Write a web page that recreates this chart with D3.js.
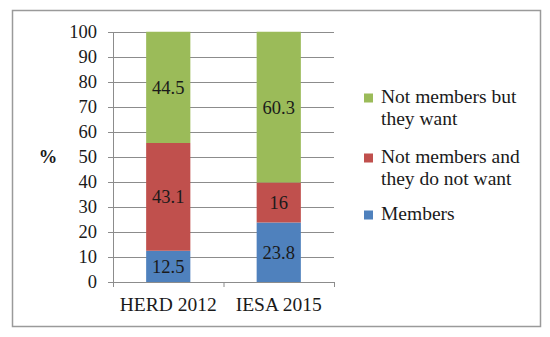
<!DOCTYPE html>
<html><head><meta charset="utf-8">
<script src="https://cdn.jsdelivr.net/npm/d3@7"></script>
<style>body{margin:0;background:#fff}svg{display:block}svg text{font-family:"Liberation Serif","Times New Roman",serif}</style>
</head><body>
<svg id="c" width="550" height="337"></svg>
<script>
const categories = ["HERD 2012", "IESA 2015"];
const members = [12.5, 23.8];
const notWant = [43.1, 16];
const butWant = [44.5, 60.3];
const yTicks = [0,10,20,30,40,50,60,70,80,90,100];
const seriesNames = ["Members", "Not members and they do not want", "Not members but they want"];
const legendLines = [["Not members but","they want"],["Not members and","they do not want"],["Members"]];
const colors = ["#4F81BD", "#C0504D", "#9BBB59"];

const svg = d3.select("#c");
const fs = 18.5, fsT = 19.5;
const txt = "#1a1a1a";

svg.append("rect").attr("x",12.5).attr("y",10.5).attr("width",528).attr("height",316)
  .attr("fill","#fff").attr("stroke","#9a9a9a").attr("stroke-width",1.5);

const x = d3.scaleBand().domain(categories).range([113, 334]);
const y = d3.scaleLinear().domain([0,100]).range([282, 32]);

svg.append("g").selectAll("line").data(yTicks).join("line")
  .attr("x1",108).attr("x2",334).attr("y1",d=>y(d)+0.5).attr("y2",d=>y(d)+0.5)
  .attr("stroke","#8c8c8c").attr("stroke-width",1);

svg.append("g").selectAll("text").data(yTicks).join("text")
  .attr("x",97).attr("y",d=>y(d)).attr("dy","0.35em").attr("text-anchor","end")
  .attr("font-size",fs).attr("fill",txt).text(d=>d);

svg.append("line").attr("x1",113.5).attr("x2",113.5).attr("y1",y(100)).attr("y2",y(0)+0.5)
  .attr("stroke","#8c8c8c");
svg.append("g").selectAll("line").data([113, 223.5, 334]).join("line")
  .attr("x1",d=>d+0.5).attr("x2",d=>d+0.5).attr("y1",y(0)).attr("y2",y(0)+5)
  .attr("stroke","#8c8c8c");

svg.append("text").attr("x",48).attr("y",y(50)).attr("dy","0.35em").attr("text-anchor","middle")
  .attr("font-size",fs).attr("font-weight","bold").attr("fill",txt).text("%");

const data = categories.map((c,i)=>({cat:c, Members:members[i], "Not members and they do not want":notWant[i], "Not members but they want":butWant[i]}));
const stack = d3.stack().keys(seriesNames)(data);
const bw = x.bandwidth()*0.4;

stack.forEach((s,si)=>{
  const g = svg.append("g");
  g.selectAll("rect").data(s).join("rect")
    .attr("x",d=>x(d.data.cat)+x.bandwidth()/2-bw/2)
    .attr("width",bw)
    .attr("y",d=>y(d[1]))
    .attr("height",d=>y(d[0])-y(d[1]))
    .attr("fill",colors[si]);
  g.selectAll("text").data(s).join("text")
    .attr("x",d=>x(d.data.cat)+x.bandwidth()/2)
    .attr("y",d=>(y(d[0])+y(d[1]))/2).attr("dy","0.35em").attr("text-anchor","middle")
    .attr("font-size",fs).attr("fill",txt)
    .text(d=>d.data[seriesNames[si]]);
});

svg.append("g").selectAll("text").data(categories).join("text")
  .attr("x",d=>x(d)+x.bandwidth()/2).attr("y",311).attr("text-anchor","middle")
  .attr("font-size",fsT).attr("fill",txt).text(d=>d);

const legendColors = [colors[2], colors[1], colors[0]];
const legTop = [103, 163, 220];
const lg = svg.append("g");
legendLines.forEach((lines,i)=>{
  lg.append("rect").attr("x",364).attr("y",legTop[i]-9.5).attr("width",9).attr("height",9).attr("fill",legendColors[i]);
  const t = lg.append("text").attr("x",381).attr("y",legTop[i])
    .attr("font-size",fsT).attr("fill",txt);
  lines.forEach((l,j)=>t.append("tspan").attr("x",381).attr("dy",j?21.5:0).text(l));
});
</script>
</body></html>
